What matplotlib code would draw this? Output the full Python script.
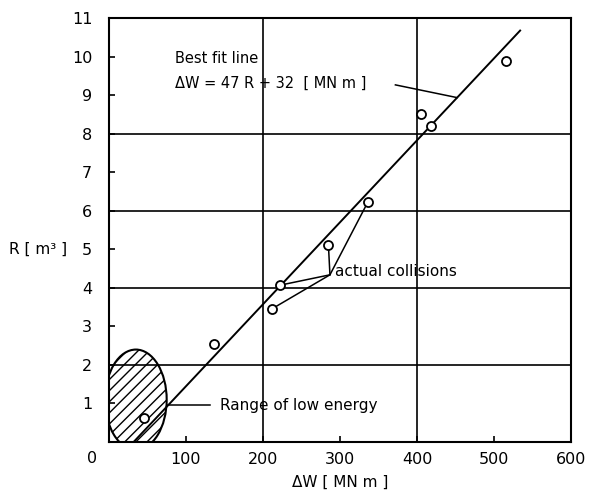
import matplotlib
matplotlib.use("Agg")
import matplotlib.pyplot as plt
from matplotlib.patches import Ellipse
import numpy as np

# measured collisions: energy dW [MN m] vs damaged volume R [m^3]
dw_points = [45, 136, 212, 222, 285, 336, 405, 418, 516]
r_points = [0.63, 2.55, 3.46, 4.07, 5.12, 6.22, 8.52, 8.2, 9.9]

# best fit line dW = 47 R + 32
fit_slope = 47
fit_intercept = 32
fit_r = [0.0, 10.68]

# points marked as "actual collisions"
actual_dw = [222, 212, 285, 336]
actual_r = [4.07, 3.46, 5.12, 6.22]

x_ticks = [0, 100, 200, 300, 400, 500, 600]
y_ticks = list(range(0, 12))

plt.rcParams['font.family'] = ['DejaVu Sans']
fig = plt.figure(figsize=(5.92, 4.98), dpi=100)
ax = fig.add_axes([0.184, 0.1124, 0.7805, 0.851])
ax.set_xlim(0, 600)
ax.set_ylim(0, 11)

# grid: only every 200 in x and every 2 in y
for gx in [200, 400]:
    ax.axvline(gx, color='k', lw=1.2, zorder=1)
for gy in [2, 4, 6, 8]:
    ax.axhline(gy, color='k', lw=1.2, zorder=1)

# hatched low energy zone
low = Ellipse(xy=(35, 1.1), width=80, height=2.6, fill=False, hatch='///',
              edgecolor='k', lw=1.5, zorder=2)
ax.add_patch(low)

# fit line
fr = np.array(fit_r)
ax.plot(fit_slope * fr + fit_intercept, fr, color='k', lw=1.4, zorder=3)

# points
ax.plot(dw_points, r_points, 'o', ms=6.5, mfc='white', mec='k', mew=1.3, zorder=5)

# leader lines for actual collisions
vertex = (287, 4.34)
for px, py in zip(actual_dw, actual_r):
    ax.annotate('', xy=(px, py), xytext=vertex,
                arrowprops=dict(arrowstyle='-', lw=1.1, color='k', shrinkA=0, shrinkB=3.5),
                zorder=4)
ax.text(294, 4.42, 'actual collisions', fontsize=11, va='center', ha='left')

# best fit label
ax.text(86, 9.95, 'Best fit line', fontsize=10.5, va='center', ha='left')
ax.text(86, 9.3, 'ΔW = 47 R + 32  [ MN m ]', fontsize=10.5, va='center', ha='left')
ax.plot([372, 452], [9.27, 8.94], color='k', lw=1.1, zorder=4)

# low energy label
ax.plot([77, 131], [0.96, 0.96], color='k', lw=1.1, zorder=4)
ax.text(144, 0.96, 'Range of low energy', fontsize=11, va='center', ha='left')

# axes style
for s in ax.spines.values():
    s.set_linewidth(1.5)
ax.set_xticks(x_ticks)
ax.set_xticklabels([''] + [str(v) for v in x_ticks[1:]])
ax.set_yticks(y_ticks)
ax.set_yticklabels([''] + [str(v) for v in y_ticks[1:]])
ax.tick_params(axis='both', direction='in', length=4, width=1.2, labelsize=11.5)
ax.tick_params(axis='x', pad=7)
ax.tick_params(axis='y', pad=12)
ax.text(-0.037, -0.038, '0', transform=ax.transAxes, fontsize=11.5, ha='center', va='center')

ax.text(-0.09, 5, 'R [ m³ ]', transform=ax.get_yaxis_transform(), fontsize=11,
        ha='right', va='center')
ax.set_xlabel('ΔW [ MN m ]', fontsize=11, labelpad=6)

fig.savefig('out.png', dpi=100)
